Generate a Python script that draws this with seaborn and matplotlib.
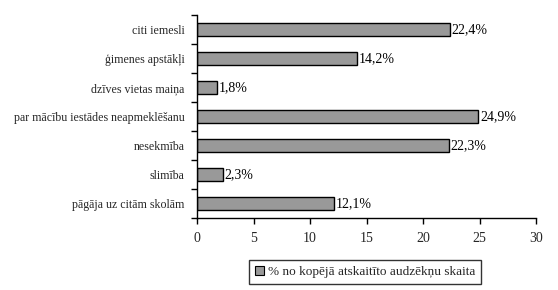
import matplotlib
matplotlib.use("Agg")
import matplotlib.pyplot as plt
import seaborn as sns
import pandas as pd
from matplotlib.patches import Patch

categories = ["citi iemesli", "ģimenes apstākļi", "dzīves vietas maiņa",
              "par mācību iestādes neapmeklēšanu", "nesekmība", "slimība",
              "pāgāja uz citām skolām"]
values = [22.4, 14.2, 1.8, 24.9, 22.3, 2.3, 12.1]
xticks = [0, 5, 10, 15, 20, 25, 30]
series_name = "% no kopējā atskaitīto audzēkņu skaita"

sns.set_style("white")
plt.rcParams['font.family'] = ['Liberation Serif', 'DejaVu Serif']
plt.rcParams['font.size'] = 9

df = pd.DataFrame({"cat": categories, "val": values})

fig = plt.figure(figsize=(5.58, 2.90), dpi=100)
ax = fig.add_axes([197/558, 1-218/290, (536-197)/558, (218-15)/290])
sns.barplot(data=df, x="val", y="cat", orient="h", color="#999999",
            edgecolor="black", linewidth=1, width=0.42, saturation=1, ax=ax)

for i, v in enumerate(values):
    ax.text(v + 0.15, i, f"{v:.1f}%".replace(".", ","), va="center", ha="left",
            fontsize=10, color="black")

ax.set_xlim(0, 30)
ax.set_ylim(len(categories) - 0.5, -0.5)
ax.set_xticks(xticks)
ax.set_xticklabels([str(t) for t in xticks])
ax.set_xlabel("")
ax.set_ylabel("")

# y ticks between categories
ax.set_yticks(range(len(categories)))
ax.set_yticklabels(categories)
ax.tick_params(axis="y", which="major", left=True, length=0, pad=9, labelsize=8.6)
ax.set_yticks([i - 0.5 for i in range(len(categories) + 1)], minor=True)
ax.tick_params(axis="y", which="minor", left=True, length=4, width=1, direction="out", color="black")
ax.tick_params(axis="x", which="major", bottom=True, length=4, width=1, direction="out",
               color="black", pad=6, labelsize=10)

for s in ["top", "right"]:
    ax.spines[s].set_visible(False)
for s in ["left", "bottom"]:
    ax.spines[s].set_color("black")
    ax.spines[s].set_linewidth(1)

handle = Patch(facecolor="#999999", edgecolor="black", linewidth=0.8)
leg = fig.legend([handle], [series_name], loc="center", bbox_to_anchor=(365/558, 1-272/290),
                 frameon=True, fancybox=False, edgecolor="black", fontsize=9.5,
                 handlelength=0.7, handleheight=0.7, handletextpad=0.3, borderpad=0.45,
                 borderaxespad=0)
leg.get_frame().set_linewidth(1)

fig.savefig("out.png", dpi=100)
